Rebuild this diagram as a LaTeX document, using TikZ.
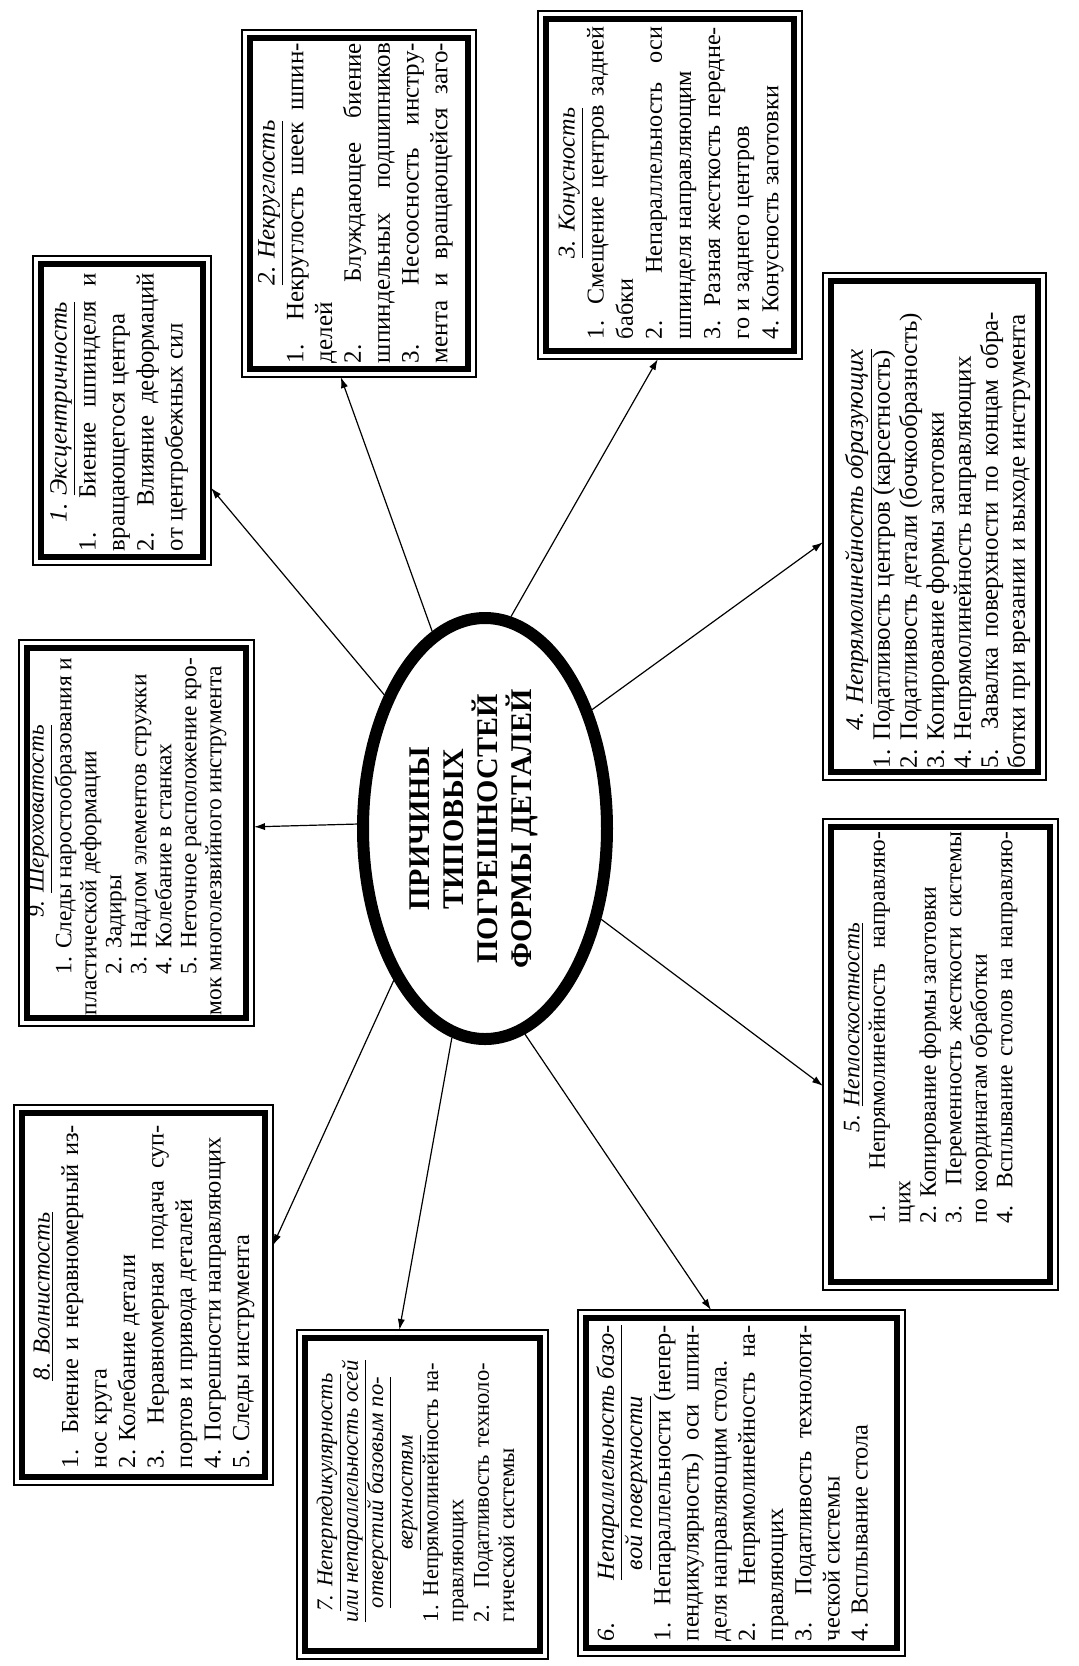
\documentclass[tikz,border=0pt]{standalone}
\usepackage{fontspec}
\setmainfont{Liberation Serif}
\usepackage{graphicx}
\usetikzlibrary{shapes.geometric,arrows.meta}
\newcommand\bxJ[1]{\hbox to\linewidth{#1}}
\newcommand\bxN[1]{\hbox{#1}}
\newcommand\bxC[1]{\hbox to\linewidth{\hfil#1\hfil}}
% #1 page width, #2 page height, #3 first baseline from left, #4 bottom pad, #5 top pad, #6 font size, #7 baselineskip, #8 lines
\newcommand\bt[8]{\rotatebox{90}{\parbox[c][#1][t]{#2}{\fontsize{#6}{#7}\selectfont\parskip=0pt
\vspace*{\dimexpr#3-0.72\dimexpr#6pt\relax\relax}%
\noindent\hspace*{#4}\parbox[t]{\dimexpr#2-#4-#5\relax}{\fontsize{#6}{#7}\selectfont #8}}}}
\tikzset{
  tb/.style={draw, line width=0.6pt, rectangle, inner sep=0pt, outer sep=0pt},
  arr/.style={line width=0.6pt, -{Latex[length=5.5pt,width=3.6pt]}},
  ellbox/.style={draw, ellipse, line width=6pt, inner sep=0pt},
}
\begin{document}
\begin{tikzpicture}[x=0.5pt,y=-0.5pt]
\useasboundingbox (0,0) rectangle (1078,1666);

% central ellipse
\node[ellbox, minimum width=122pt, minimum height=210.5pt] (ell) at (485,828.5) {};
\node[rotate=90, align=center, font=\bfseries\fontsize{15}{17}\selectfont] (ttl) at (473.5,829)
  {ПРИЧИНЫ\\ТИПОВЫХ\\ПОГРЕШНОСТЕЙ\\ФОРМЫ ДЕТАЛЕЙ};

% box 1
\node[tb, minimum width=89pt, minimum height=154.5pt] (b1) at (122,410.5)
{\bt{89pt}{154.5pt}{17.5pt}{7pt}{8.5pt}{12.4}{14.5}{%
\bxC{\textit{1. \underline{Эксцентричность}}}
\bxJ{1. Биение шпинделя и}
\bxN{вращающегося центра}
\bxJ{2. Влияние деформаций}
\bxN{от центробежных сил}}};

% box 2
\node[tb, minimum width=117pt, minimum height=173.5pt] (b2) at (359,203.5)
{\bt{117pt}{173.5pt}{17pt}{7pt}{6.5pt}{12.5}{14.4}{%
\bxC{\underline{\textit{2. Некруглость}}}
\bxJ{1. Некруглость шеек шпин-}
\bxN{делей}
\bxJ{2. Блуждающее биение}
\bxJ{шпиндельных подшипников}
\bxJ{3. Несоосность инстру-}
\bxJ{мента и вращающейся заго-}}};

% box 3
\node[tb, minimum width=132pt, minimum height=174pt] (b3) at (670,185)
{\bt{132pt}{174pt}{19pt}{10pt}{8pt}{12.1}{14.55}{%
\bxC{\underline{\textit{3. Конусность}}}
\bxJ{1. Смещение центров задней}
\bxN{бабки}
\bxJ{2. Непараллельность оси}
\bxN{шпинделя направляющим}
\bxJ{3. Разная жесткость передне-}
\bxN{го и заднего центров}
\bxN{4. Конусность заготовки}}};

% box 4
\node[tb, minimum width=111.5pt, minimum height=253.5pt] (b4) at (934.5,526.5)
{\bt{111.5pt}{253.5pt}{20pt}{6pt}{19.5pt}{12.5}{13.5}{%
\bxC{\textit{4. \underline{Непрямолинейность образующих}}}
\bxN{1. Податливость центров (карсетность)}
\bxN{2. Податливость детали (бочкообразность)}
\bxN{3. Копирование формы заготовки}
\bxN{4. Непрямолинейность направляющих}
\bxJ{5. Завалка поверхности по концам обра-}
\bxN{ботки при врезании и выходе инструмента}}};

% box 5
\node[tb, minimum width=117.5pt, minimum height=235.5pt] (b5) at (940.5,1054.5)
{\bt{117.5pt}{235.5pt}{19pt}{33.5pt}{6.5pt}{11.8}{12.75}{%
\bxC{\textit{5. \underline{Неплоскостность}}}
\bxJ{1. Непрямолинейность направляю-}
\bxN{щих}
\bxN{2. Копирование формы заготовки}
\bxJ{3. Переменность жесткости системы}
\bxN{по координатам обработки}
\bxJ{4. Всплывание столов на направляю-}}};

% box 6
\node[tb, minimum width=163.5pt, minimum height=173pt] (b6) at (741.5,1483)
{\bt{163.5pt}{173pt}{18pt}{7.5pt}{7.5pt}{12.2}{14.1}{%
\bxJ{\textit{6.} \underline{\textit{Непараллельность базо-}}}
\bxC{\underline{\textit{вой поверхности}}}
\bxJ{1. Непараллельности (непер-}
\bxJ{пендикулярность) оси шпин-}
\bxN{деля направляющим стола.}
\bxJ{2. Непрямолинейность на-}
\bxN{правляющих}
\bxJ{3. Податливость технологи-}
\bxN{ческой системы}
\bxN{4. Всплывание стола}}};

% box 7
\node[tb, minimum width=125.5pt, minimum height=164.5pt] (b7) at (422.5,1494.5)
{\bt{125.5pt}{164.5pt}{18pt}{18.5pt}{16.5pt}{11.3}{12.7}{%
\bxC{\underline{\textit{7. Неперпедикулярность}}}
\bxC{\underline{\textit{или непараллельность осей}}}
\bxC{\underline{\textit{отверстий базовым по-}}}
\vspace{2pt}
\bxC{\underline{\textit{верхностям}}}
\bxJ{1. Непрямолинейность на-}
\bxN{правляющих}
\bxJ{2. Податливость техноло-}
\bxN{гической системы}}};

% box 8
\node[tb, minimum width=129.5pt, minimum height=190pt] (b8) at (143.5,1295)
{\bt{129.5pt}{190pt}{18.5pt}{8.5pt}{10pt}{12.2}{14.25}{%
\bxC{\underline{\textit{8. Волнистость}}}
\bxJ{1. Биение и неравномерный из-}
\bxN{нос круга}
\bxN{2. Колебание детали}
\bxJ{3. Неравномерная подача суп-}
\bxN{портов и привода деталей}
\bxN{4. Погрешности направляющих}
\bxN{5. Следы инструмента}}};

% box 9
\node[tb, minimum width=117.5pt, minimum height=193pt] (b9) at (136.5,833)
{\bt{117.5pt}{193pt}{13pt}{5.5pt}{9pt}{11.7}{12.5}{%
\bxC{\hskip15pt\textit{9. \underline{Шероховатость}}}
\bxJ{\hskip20.5pt 1. Следы наростообразования и}
\bxN{пластической деформации}
\bxN{\hskip20.5pt 2. Задиры}
\bxN{\hskip20.5pt 3. Надлом элементов стружки}
\bxN{\hskip20.5pt 4. Колебание в станках}
\bxJ{\hskip20.5pt 5. Неточное расположение кро-}
\bxN{мок многолезвийного инструмента}}};

% thick inner frames
\foreach \n in {b1,b2,b3,b4,b5,b6,b7,b8,b9}{
  \draw[line width=2.8pt] ([shift={(8,8)}]\n.north west) rectangle ([shift={(-8,-8)}]\n.south east);
}

% connectors
\draw[arr] (ell.127.4) -- (b1.-41.4);
\draw[arr] (ell.105) -- (b2.264.7);
\draw[arr] (ell.83.4) -- (b3.266);
\draw[arr] (ell.48.8) -- (b4.188.4);
\draw[arr] (ell.-38.7) -- (b5.195);
\draw[arr] (ell.-79.6) -- (b6.100.6);
\draw[arr] (ell.-99) -- (b7.98.8);
\draw[arr] (ell.-121.3) -- (b8.21.9);
\draw[arr] (ell.178.5) -- (b9.3.4);
\end{tikzpicture}
\end{document}
